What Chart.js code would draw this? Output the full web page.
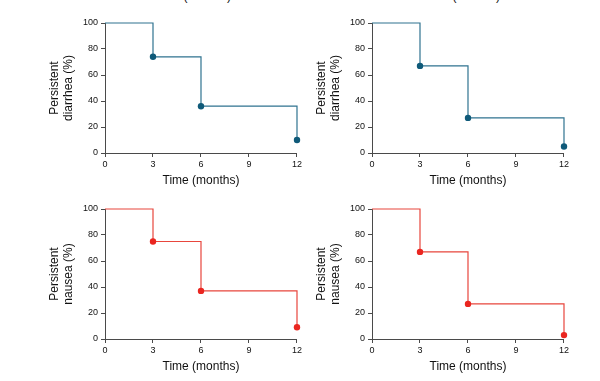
<!DOCTYPE html>
<html>
<head>
<meta charset="utf-8">
<script src="https://cdn.jsdelivr.net/npm/chart.js@4.4.1/dist/chart.umd.min.js"></script>
<style>
  html, body { margin: 0; padding: 0; background: #fff; }
  body { width: 600px; height: 381px; position: relative; overflow: hidden; font-family: "Liberation Sans", Arial, sans-serif; }
  .panel { position: absolute; width: 304px; height: 190px; }
  .clip { position: absolute; font-size: 12px; color: #111; white-space: nowrap; line-height: 12px; }
</style>
</head>
<body>
<div class="clip" style="left:154px; top:-10px;">Time (months)</div>
<div class="clip" style="left:423px; top:-10px;">Time (months)</div>
<div class="panel" style="left:0px; top:0px;"><canvas id="c1" width="304" height="190"></canvas></div>
<div class="panel" style="left:267px; top:0px;"><canvas id="c2" width="304" height="190"></canvas></div>
<div class="panel" style="left:0px; top:186px;"><canvas id="c3" width="304" height="190"></canvas></div>
<div class="panel" style="left:267px; top:186px;"><canvas id="c4" width="304" height="190"></canvas></div>
<script>
// Time points (months)
const months = [0, 3, 6, 12];
// Persistent symptom percentages
const diarrheaA = [100, 74, 36, 10];
const diarrheaB = [100, 67, 27, 5];
const nauseaA = [100, 75, 37, 9];
const nauseaB = [100, 67, 27, 3];
// Tick labels
const xTicks = [0, 3, 6, 9, 12];
const yTicks = [0, 20, 40, 60, 80, 100];

const blueLine = '#2f7390', bluePoint = '#0f5a79';
const redLine = '#e8463d', redPoint = '#ea2620';
const axisColor = '#4a4a4a';
const FONT = '"Liberation Sans", Arial, sans-serif';

function makeChart(id, values, yTitle, lineColor, pointColor) {
  const data = months.map((m, i) => ({ x: m, y: values[i] }));
  new Chart(document.getElementById(id), {
    type: 'line',
    data: {
      datasets: [{
        data: data,
        stepped: 'before',
        borderColor: lineColor,
        borderWidth: 1.2,
        backgroundColor: pointColor,
        pointBackgroundColor: pointColor,
        pointBorderWidth: 0,
        pointRadius: months.map((m, i) => i === 0 ? 0 : 3.2),
        fill: false,
        clip: false
      }]
    },
    options: {
      responsive: false,
      animation: false,
      events: [],
      layout: { padding: { top: 23, right: 3, left: 0, bottom: 0 } },
      plugins: { legend: { display: false }, tooltip: { enabled: false } },
      scales: {
        x: {
          type: 'linear', min: 0, max: 12,
          afterBuildTicks: s => { s.ticks = xTicks.map(v => ({ value: v })); },
          afterFit: s => { s.height = 37; },
          grid: { display: true, drawOnChartArea: false, drawTicks: true, tickLength: 4, color: axisColor, lineWidth: 1 },
          border: { display: true, color: axisColor, width: 1 },
          ticks: { color: '#111', font: { family: FONT, size: 9 }, padding: 2, maxRotation: 0, autoSkip: false },
          title: { display: true, text: 'Time (months)', color: '#111', font: { family: FONT, size: 12, lineHeight: 1.1 }, padding: { top: 0, bottom: 2.5 } }
        },
        y: {
          type: 'linear', min: 0, max: 100,
          afterBuildTicks: s => { s.ticks = yTicks.map(v => ({ value: v })); },
          afterFit: s => { s.width = 105; },
          grid: { display: true, drawOnChartArea: false, drawTicks: true, tickLength: 4, color: axisColor, lineWidth: 1 },
          border: { display: true, color: axisColor, width: 1 },
          ticks: { color: '#111', font: { family: FONT, size: 9 }, padding: 3, autoSkip: false },
          title: { display: true, text: ['Persistent', yTitle], color: '#111', font: { family: FONT, size: 12, lineHeight: 1.1 }, padding: { top: 48.5, bottom: 0 } }
        }
      }
    }
  });
}

makeChart('c1', diarrheaA, 'diarrhea (%)', blueLine, bluePoint);
makeChart('c2', diarrheaB, 'diarrhea (%)', blueLine, bluePoint);
makeChart('c3', nauseaA, 'nausea (%)', redLine, redPoint);
makeChart('c4', nauseaB, 'nausea (%)', redLine, redPoint);
</script>
</body>
</html>
